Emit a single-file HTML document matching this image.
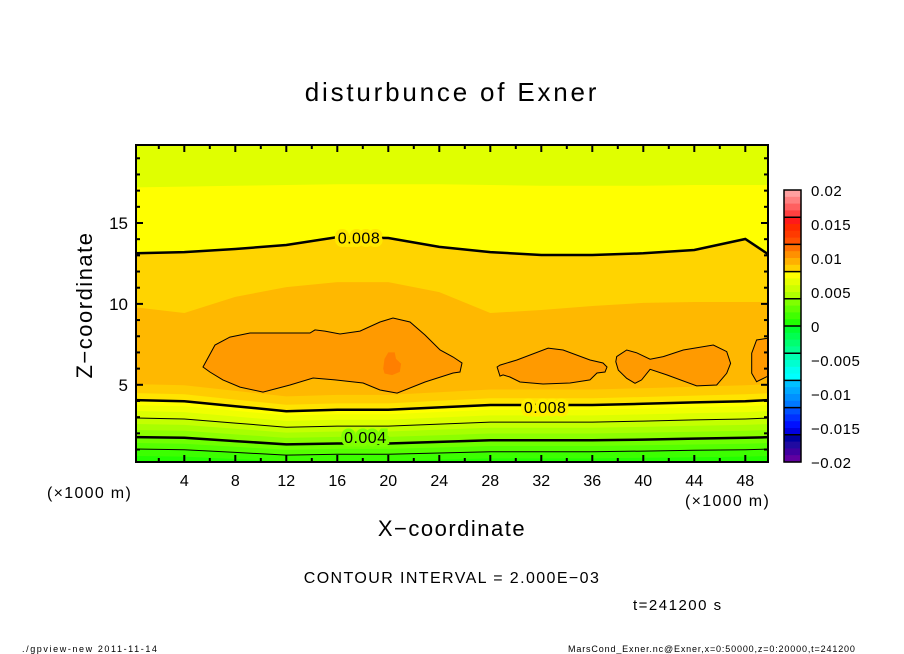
<!DOCTYPE html>
<html><head><meta charset="utf-8"><style>
html,body{margin:0;padding:0;background:#fff;}
svg{display:block;font-family:"Liberation Sans",sans-serif;}
</style></head><body>
<svg id="chart" width="904" height="654" viewBox="0 0 904 654">
<defs><clipPath id="plotclip"><rect x="136" y="145" width="632" height="317"/></clipPath></defs>
<g id="plot" clip-path="url(#plotclip)"></g>
<rect x="136" y="145" width="632" height="317" fill="none" stroke="#000" stroke-width="2"/>
<g id="ticks"></g>
<g id="cbar"></g>
<text x="452" y="101" text-anchor="middle" font-size="26" letter-spacing="2.8">disturbunce of Exner</text>
<text transform="translate(92,305) rotate(-90)" text-anchor="middle" font-size="22" letter-spacing="1.5">Z−coordinate</text>
<text x="452" y="536" text-anchor="middle" font-size="22" letter-spacing="1.5">X−coordinate</text>
<text x="47" y="498" font-size="16" letter-spacing="1.3">(×1000 m)</text>
<text x="685" y="506" font-size="16" letter-spacing="1.3">(×1000 m)</text>
<text x="452" y="583" text-anchor="middle" font-size="16" letter-spacing="1.4">CONTOUR INTERVAL = 2.000E−03</text>
<text x="633" y="610" font-size="15" letter-spacing="1.5">t=241200 s</text>
<text x="22" y="652" font-size="9" letter-spacing="1.6">./gpview-new  2011-11-14</text>
<text x="568" y="652" font-size="9" letter-spacing="0.85">MarsCond_Exner.nc@Exner,x=0:50000,z=0:20000,t=241200</text>
</svg>
<script>
// ---- data ----
const xs = [0,4,8,12,16,20,24,28,32,36,40,44,48,50];
const lowerBase = [0.60,1.03,1.40,1.77,2.21,2.58,2.95,3.38,3.75,4.06,4.49,5.05];
const lowerDip = [0,0.06,0.31,0.56,0.49,0.49,0.37,0.25,0.25,0.25,0.19,0.12,0.06,0];
const upperMid = [9.81,9.44,10.43,11.04,11.35,11.35,10.73,9.44,9.62,9.87,10.06,10.12,10.12,10.12];
const upperLine8 = [13.13,13.2,13.39,13.64,14.13,14.07,13.52,13.2,13.02,13.02,13.13,13.33,14.01,12.96];
const upperTop = [17.2,17.25,17.3,17.35,17.4,17.4,17.4,17.35,17.3,17.3,17.3,17.35,17.35,17.35];
const bandColors = ['#22ff00','#3cff00','#55ff00','#70ff00','#8cff00','#a8ff00','#c4ff00','#dcff00','#f0ff00','#ffff00','#ffe400','#ffcc00','#ffb800','#ffd400','#ffff00','#e0ff00'];
const blob1X = [5.47,6.41,7.58,9.15,11.51,13.86,14.25,15.03,16.21,17.78,19.35,20.37,21.70,22.88,24.06,25.08,25.78,25.62,25.08,22.88,20.69,19.35,18.02,15.82,14.10,12.29,10.17,8.37,7.03,6.01];
const blob1Z = [6.10,7.46,7.95,8.20,8.20,8.20,8.39,8.32,8.14,8.32,8.88,9.13,8.88,8.08,7.15,6.72,6.35,5.79,5.73,5.17,4.49,4.68,5.11,5.30,5.42,4.99,4.55,4.86,5.30,5.79];
const blob2X = [28.53,28.76,30.09,32.53,33.71,35.82,36.84,37.15,37.00,36.37,35.82,34.25,32.13,30.33,29.54,29.00,28.76];
const blob2Z = [6.10,6.22,6.53,7.27,7.15,6.53,6.35,6.10,5.79,5.73,5.30,5.11,5.05,5.17,5.48,5.61,5.54];
const blob3X = [37.91,38.70,39.48,40.53,41.57,43.14,45.49,46.54,46.85,46.54,45.76,44.19,41.84,40.53,39.87,39.35,38.70,38.04,37.84];
const blob3Z = [6.74,7.15,6.98,6.58,6.74,7.15,7.46,7.05,6.33,5.71,4.99,4.93,5.61,5.96,5.30,5.09,5.40,5.91,6.43];
const blob4X = [50.5,49.68,48.89,48.50,48.50,48.89,49.68,50.5];
const blob4Z = [7.9,7.87,7.77,6.95,5.71,5.19,5.50,5.5];
const spotX = [19.6,19.7,20.0,20.5,20.6,21.0,20.9,20.3,19.7];
const spotZ = [6.0,6.6,7.0,7.0,6.6,6.3,5.8,5.6,5.7];
const cbarColors = ['#ffa0a0','#ff8080','#ff6060','#ff4040',
 '#ff1a1a','#ff2a00','#ff3a00','#ff5000',
 '#ff7000','#ff9000','#ffb000','#ffd000',
 '#ffff00','#e6ff00','#ccff00','#b0ff00',
 '#80ff00','#60ff00','#40ff00','#20ff00',
 '#00ff30','#00ff50','#00ff70','#00ff90',
 '#00ffb0','#00ffd0','#00fff0','#00ffff',
 '#00c0ff','#00a8ff','#0090ff','#0078ff',
 '#0050ff','#0030ff','#0010ff','#0000e0',
 '#0000a0','#200aa0','#4000a0','#6000a0'];
const cbarLabelValues = [0.02,0.015,0.01,0.005,0,-0.005,-0.01,-0.015,-0.02];
const cbarLabels = ['0.02','0.015','0.01','0.005','0','−0.005','−0.01','−0.015','−0.02'];
const xTickLabels = [4,8,12,16,20,24,28,32,36,40,44,48];
const zTickLabels = [5,10,15];

// ---- scales ----
const X = x => 133.3 + x*12.75;
const Z = z => 465.7 - z*16.18;
const NS='http://www.w3.org/2000/svg';
const plot=document.getElementById('plot');
function mk(tag, parent){const e=document.createElementNS(NS,tag);parent.appendChild(e);return e;}
function pts(xa,za){return xa.map((x,i)=>X(x).toFixed(1)+','+Z(za[i]).toFixed(1)).join(' ');}

const bounds=[];
lowerBase.forEach((b,k)=>{bounds.push(lowerDip.map(d=>b-d*(0.6+0.07*k)));});
bounds.push(upperMid, upperLine8, upperTop);

let bg=mk('rect',plot);
bg.setAttribute('x',130);bg.setAttribute('y',140);bg.setAttribute('width',650);bg.setAttribute('height',330);bg.setAttribute('fill',bandColors[0]);


bounds.forEach((bz,i)=>{
  const p=mk('polygon',plot);
  const xa=[-1].concat(xs,[51,51,-1]);
  const za=[bz[0]].concat(bz,[bz[bz.length-1],21,21]);
  p.setAttribute('points',pts(xa,za));
  p.setAttribute('fill',bandColors[i+1]);
  
  
});
function line(za,w,name){
  const l=mk('polyline',plot);
  l.setAttribute('points',pts([-1].concat(xs,[51]),[za[0]].concat(za,[za[za.length-1]])));
  l.setAttribute('fill','none');l.setAttribute('stroke','#000');l.setAttribute('stroke-width',w);
  
  
}
line(bounds[1],1,'contour-0.002');
line(bounds[3],2.5,'contour-0.004');
line(bounds[6],1,'contour-0.006');
line(bounds[9],2.5,'contour-0.008-lower');
line(upperLine8,2.5,'contour-0.008-upper');
function blob(xa,za,fill,stroke,name){
  const p=mk('polygon',plot);
  p.setAttribute('points',pts(xa,za));
  p.setAttribute('fill',fill);
  if(stroke){p.setAttribute('stroke','#000');p.setAttribute('stroke-width',1);}
  
  
}
blob(blob1X,blob1Z,'#ff9a00',true,'contour-0.010-blob-1');
blob(spotX,spotZ,'#ff7f00',false,'max-spot');
blob(blob2X,blob2Z,'#ff9a00',true,'contour-0.010-blob-2');
blob(blob3X,blob3Z,'#ff9a00',true,'contour-0.010-blob-3');
blob(blob4X,blob4Z,'#ff9a00',true,'contour-0.010-blob-4');
function clabel(x,z,txt,bgc,name){
  const t=mk('text',plot);
  t.setAttribute('x',X(x));t.setAttribute('y',Z(z)+6);t.setAttribute('text-anchor','middle');
  t.setAttribute('font-size','16');t.setAttribute('stroke',bgc);t.setAttribute('stroke-width','7');
  t.setAttribute('paint-order','stroke');t.setAttribute('fill','#000');t.setAttribute('letter-spacing','0.5');
  t.textContent=txt;
  
  
}
clabel(17.7,14.1,'0.008','#ffe800','contour-label-upper');
clabel(18.2,1.77,'0.004','#80ff00','contour-label-0.004');
clabel(32.3,3.63,'0.008','#ffee00','contour-label-lower');

const tk=document.getElementById('ticks');
for(let x=2;x<=48;x+=2){
  const len=(x%4===0)?7:4;
  [[462,462-len],[145,145+len]].forEach(([a,b])=>{
    const l=mk('line',tk);l.setAttribute('x1',X(x));l.setAttribute('x2',X(x));l.setAttribute('y1',a);l.setAttribute('y2',b);
    l.setAttribute('stroke','#000');l.setAttribute('stroke-width',2);
    
    
  });
}
for(let z=1;z<=19;z++){
  const len=(z%5===0)?7:4;
  [[136,136+len],[768,768-len]].forEach(([a,b])=>{
    const l=mk('line',tk);l.setAttribute('y1',Z(z));l.setAttribute('y2',Z(z));l.setAttribute('x1',a);l.setAttribute('x2',b);
    l.setAttribute('stroke','#000');l.setAttribute('stroke-width',2);
    
    
  });
}
xTickLabels.forEach(v=>{
  const t=mk('text',tk);t.setAttribute('x',X(v));t.setAttribute('y',486);t.setAttribute('text-anchor','middle');t.setAttribute('font-size','16');t.textContent=v;
  
  
});
zTickLabels.forEach(v=>{
  const t=mk('text',tk);t.setAttribute('x',128);t.setAttribute('y',Z(v)+6);t.setAttribute('text-anchor','end');t.setAttribute('font-size','17');t.textContent=v;
  
  
});

// colorbar
const cb=document.getElementById('cbar');
const cy0=190,ch=272,n=cbarColors.length,sh=ch/n;
const CV = v => cy0 + (0.02 - v)/0.04*ch;
cbarColors.forEach((c,i)=>{
  const r=mk('rect',cb);r.setAttribute('x',784);r.setAttribute('y',(cy0+i*sh).toFixed(2));r.setAttribute('width',17);r.setAttribute('height',(sh+0.6).toFixed(2));r.setAttribute('fill',c);
  
  
});
for(let i=4;i<n;i+=4){
  const y=cy0+i*sh;
  const l=mk('line',cb);l.setAttribute('x1',784);l.setAttribute('x2',801);l.setAttribute('y1',y);l.setAttribute('y2',y);l.setAttribute('stroke','#000');l.setAttribute('stroke-width',1.5);
  
  
}
cbarLabelValues.forEach((v,i)=>{
  const t=mk('text',cb);t.setAttribute('x',811);t.setAttribute('y',CV(v)+6);t.setAttribute('font-size','15');t.setAttribute('letter-spacing','0.5');t.textContent=cbarLabels[i];
  
  
});
const fr=mk('rect',cb);fr.setAttribute('x',784);fr.setAttribute('y',cy0);fr.setAttribute('width',17);fr.setAttribute('height',ch);fr.setAttribute('fill','none');fr.setAttribute('stroke','#000');fr.setAttribute('stroke-width',1.5);


</script>
</body></html>
